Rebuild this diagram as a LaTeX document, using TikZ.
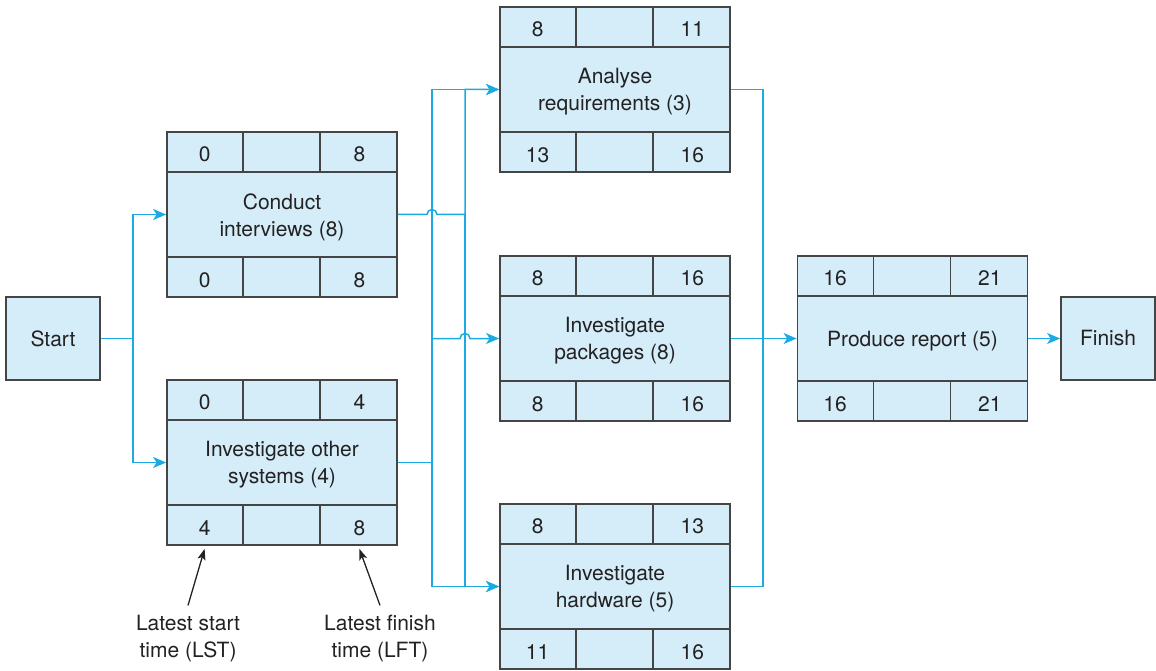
\documentclass[tikz,border=0pt]{standalone}
\usepackage{fontspec}
\setmainfont{TeX Gyre Heros}
\usetikzlibrary{arrows.meta, positioning, calc}
\definecolor{boxfill}{HTML}{D5ECF9}
\definecolor{boxline}{HTML}{454545}
\definecolor{flowcyan}{HTML}{1CAAE3}
\definecolor{inkgray}{HTML}{222222}

% one activity box: name, centre, label, ES, EF, LS, LF
\newcommand{\activity}[7]{%
  \node[actbox] (#1) at #2 {};
  \node[acttext] at ([yshift=-2.5pt]#1.center) {#3};
  \draw[cellline] ([yshift=-41pt]#1.north west) -- ([yshift=-41pt]#1.north east);
  \draw[cellline] ([yshift=41pt]#1.south west) -- ([yshift=41pt]#1.south east);
  \foreach \dx in {77,154} {
    \draw[cellline] ([xshift=\dx pt]#1.north west) -- ++(0,41);
    \draw[cellline] ([xshift=\dx pt]#1.south west) -- ++(0,-41);
  }
  \node[num] at ([xshift=38.5pt,yshift=-23pt]#1.north west) {#4};
  \node[num] at ([xshift=-38.5pt,yshift=-23pt]#1.north east) {#5};
  \node[num] at ([xshift=38.5pt,yshift=18pt]#1.south west) {#6};
  \node[num] at ([xshift=-38.5pt,yshift=18pt]#1.south east) {#7};
}

\begin{document}
\begin{tikzpicture}[
  x=1pt, y=-1pt,
  font=\fontsize{21}{27}\selectfont,
  actbox/.style={
    draw=boxline, line width=1.8pt, fill=boxfill,
    minimum width=230pt, minimum height=165pt, inner sep=0pt
  },
  acttext/.style={align=center, inner sep=0pt, text=inkgray},
  endbox/.style={
    draw=boxline, line width=1.8pt, fill=boxfill,
    minimum width=94pt, minimum height=83pt, text=inkgray
  },
  cellline/.style={draw=boxline, line width=1.4pt},
  num/.style={text=inkgray, inner sep=0pt},
  flow/.style={draw=flowcyan, line width=1.5pt,
    -{Stealth[length=13pt, width=11pt, inset=3.5pt]}},
  bus/.style={draw=flowcyan, line width=1.5pt},
  note/.style={align=center, text=inkgray, inner sep=2pt},
  annot/.style={draw=inkgray, line width=1.3pt,
    -{Stealth[length=11pt, width=8pt, inset=2.5pt]}},
]
\useasboundingbox (0,0) rectangle (1156,671);

% Start and finish
\node[endbox] (start) at (53,338.5) {Start};
\node[endbox] (finish) at (1108,338.5) {Finish};

% Activities
\activity{ci}{(282,214.5)}{Conduct\\interviews (8)}{0}{8}{0}{8}
\activity{ios}{(282,462.5)}{Investigate other\\systems (4)}{0}{4}{4}{8}
\activity{ar}{(615,89.5)}{Analyse\\requirements (3)}{8}{11}{13}{16}
\activity{ip}{(615,338.5)}{Investigate\\packages (8)}{8}{16}{8}{16}
\activity{ih}{(615,586.5)}{Investigate\\hardware (5)}{8}{13}{11}{16}
\activity{pr}{(912.5,338.5)}{Produce report (5)}{16}{21}{16}{21}

% Bus lines
\coordinate (split) at (133,0);
\coordinate (busa) at (432,0);
\coordinate (busb) at (465,0);
\coordinate (busc) at (763,0);

% Start to first activities
\draw[flow] (start.east) -- (start.east -| split) |- (ci.west);
\draw[flow] (start.east -| split) |- (ios.west);

% Conduct interviews, jumping over bus a
\draw[flow] (ci.east) -- ([xshift=-5pt]ci.east -| busa)
  arc[start angle=180, end angle=0, radius=5pt]
  -- (ci.east -| busb) |- (ar.west);
\draw[flow] (ci.east -| busb) |- (ih.west);

% Investigate other systems
\draw[flow] (ios.east) -- (ios.east -| busa) |- (ar.west);
\draw[flow] (ios.east -| busa) |- (ih.west);
\draw[flow] (ip.west -| busa) -- ([xshift=-5pt]ip.west -| busb)
  arc[start angle=180, end angle=0, radius=5pt] -- (ip.west);

% Into produce report
\draw[bus] (ar.east) -- (ar.east -| busc) |- (ih.east);
\draw[flow] (ip.east) -- (pr.west);
\draw[flow] (pr.east) -- (finish.west);

% Annotations
\node[note] (lst) at (188,639) {Latest start\\time (LST)};
\node[note] (lft) at (380,639) {Latest finish\\time (LFT)};
\draw[annot] ([yshift=8pt]lst.north) -- ([xshift=38.5pt,yshift=-3pt]ios.south west);
\draw[annot] ([yshift=8pt]lft.north) -- ([xshift=-38.5pt,yshift=-3pt]ios.south east);

\end{tikzpicture}
\end{document}
